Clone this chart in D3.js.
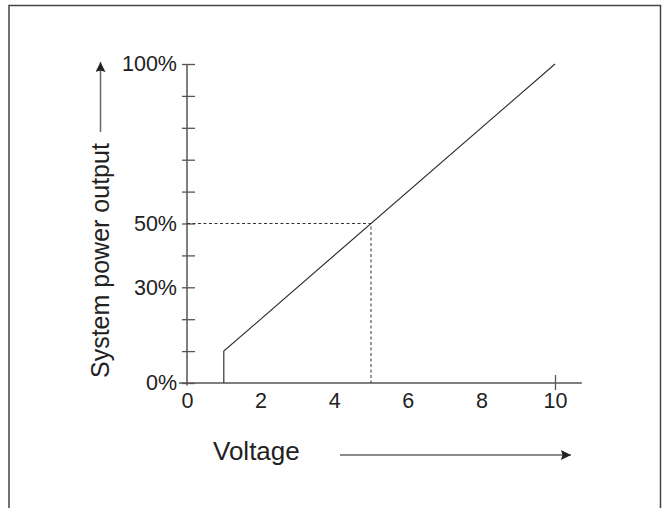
<!DOCTYPE html>
<html>
<head>
<meta charset="utf-8">
<script src="https://cdn.jsdelivr.net/npm/d3@7"></script>
<style>
  body { margin: 0; background: #fff; }
  text { font-family: "Liberation Sans", Arial, Helvetica, sans-serif; fill: #222; }
</style>
</head>
<body>
<div id="chart"></div>
<script>
// data
var voltage = [1, 1, 10];          // volts
var power = [0, 10, 100];          // percent of system power output
var markVoltage = [0, 5, 5];       // dotted guide at 50%
var markPower = [50, 50, 0];
var yTicks = [0, 10, 20, 30, 40, 50, 60, 70, 80, 90, 100];
var yLabels = [0, 30, 50, 100];
var xLabels = [0, 2, 4, 6, 8, 10];

var W = 666, H = 508;

var svg = d3.select("#chart").append("svg")
    .attr("width", W).attr("height", H);

// frame around the figure (bottom edge runs off the page)
svg.append("path")
    .attr("d", "M9,512 V5.5 H660.5 V512")
    .attr("fill", "none")
    .attr("stroke", "#444")
    .attr("stroke-width", 1.5);

var x = d3.scaleLinear().domain([0, 10]).range([187, 555]);
var y = d3.scaleLinear().domain([0, 100]).range([383, 64]);

// y axis: crossing ticks every 10%, labels on a few
var yAxis = svg.append("g")
    .attr("transform", "translate(" + x(0) + ",0)")
    .call(d3.axisLeft(y)
          .tickValues(yTicks)
          .tickSizeInner(-8)
          .tickSizeOuter(0)
          .tickPadding(10)
          .tickFormat(function(d) { return yLabels.indexOf(d) >= 0 ? d + "%" : ""; }));
yAxis.select(".domain").remove();
yAxis.selectAll(".tick line")
    .attr("x1", -5)
    .attr("stroke", "#555")
    .attr("stroke-width", 1.3);
yAxis.selectAll(".tick text")
    .attr("font-size", 21.5)
    .attr("font-family", null)
    .attr("fill", "#222");
yAxis.append("line")
    .attr("y1", y(100)).attr("y2", y(0) + 2.5)
    .attr("stroke", "#555").attr("stroke-width", 1.5);

// x axis: only the end tick is drawn
var xAxis = svg.append("g")
    .attr("transform", "translate(0," + y(0) + ")")
    .call(d3.axisBottom(x)
          .tickValues(xLabels)
          .tickSize(0)
          .tickFormat(d3.format("d")));
xAxis.select(".domain").remove();
xAxis.selectAll(".tick text")
    .attr("y", 25).attr("dy", 0)
    .attr("font-size", 21.5)
    .attr("font-family", null)
    .attr("fill", "#222");
xAxis.selectAll(".tick line")
    .attr("y1", function(d) { return d === 10 ? -8 : 0; })
    .attr("y2", function(d) { return d === 10 ? 7 : 0; })
    .attr("stroke", "#555").attr("stroke-width", 1.3);
xAxis.append("line")
    .attr("x1", x(0) - 8).attr("x2", x(10.73))
    .attr("stroke", "#555").attr("stroke-width", 1.5);

// dotted guide to the 50% point
var line = d3.line()
    .x(function(d) { return x(d[0]); })
    .y(function(d) { return y(d[1]); });

svg.append("path")
    .datum(d3.zip(markVoltage, markPower))
    .attr("d", line)
    .attr("fill", "none")
    .attr("stroke", "#333")
    .attr("stroke-width", 1)
    .attr("stroke-dasharray", "3,2.5");

// output curve
svg.append("path")
    .datum(d3.zip(voltage, power))
    .attr("d", line)
    .attr("fill", "none")
    .attr("stroke", "#333")
    .attr("stroke-width", 1.2);

// arrowheads
var defs = svg.append("defs");
defs.append("marker")
    .attr("id", "arrow")
    .attr("viewBox", "0 0 10 10")
    .attr("refX", 10).attr("refY", 5)
    .attr("markerWidth", 11).attr("markerHeight", 10)
    .attr("markerUnits", "userSpaceOnUse")
    .attr("orient", "auto")
  .append("path")
    .attr("d", "M0,0 L10,5 L0,10 L1.5,5 Z")
    .attr("fill", "#222");

// y title with arrow
svg.append("text")
    .attr("transform", "translate(109,378) rotate(-90)")
    .attr("font-size", 25)
    .text("System power output");
svg.append("line")
    .attr("x1", 100.5).attr("y1", 132)
    .attr("x2", 100.5).attr("y2", 62)
    .attr("stroke", "#666").attr("stroke-width", 1.5)
    .attr("marker-end", "url(#arrow)");

// x title with arrow
svg.append("text")
    .attr("x", 213).attr("y", 460)
    .attr("font-size", 26)
    .text("Voltage");
svg.append("line")
    .attr("x1", 340).attr("y1", 455)
    .attr("x2", 571).attr("y2", 455)
    .attr("stroke", "#666").attr("stroke-width", 1.5)
    .attr("marker-end", "url(#arrow)");
</script>
</body>
</html>
